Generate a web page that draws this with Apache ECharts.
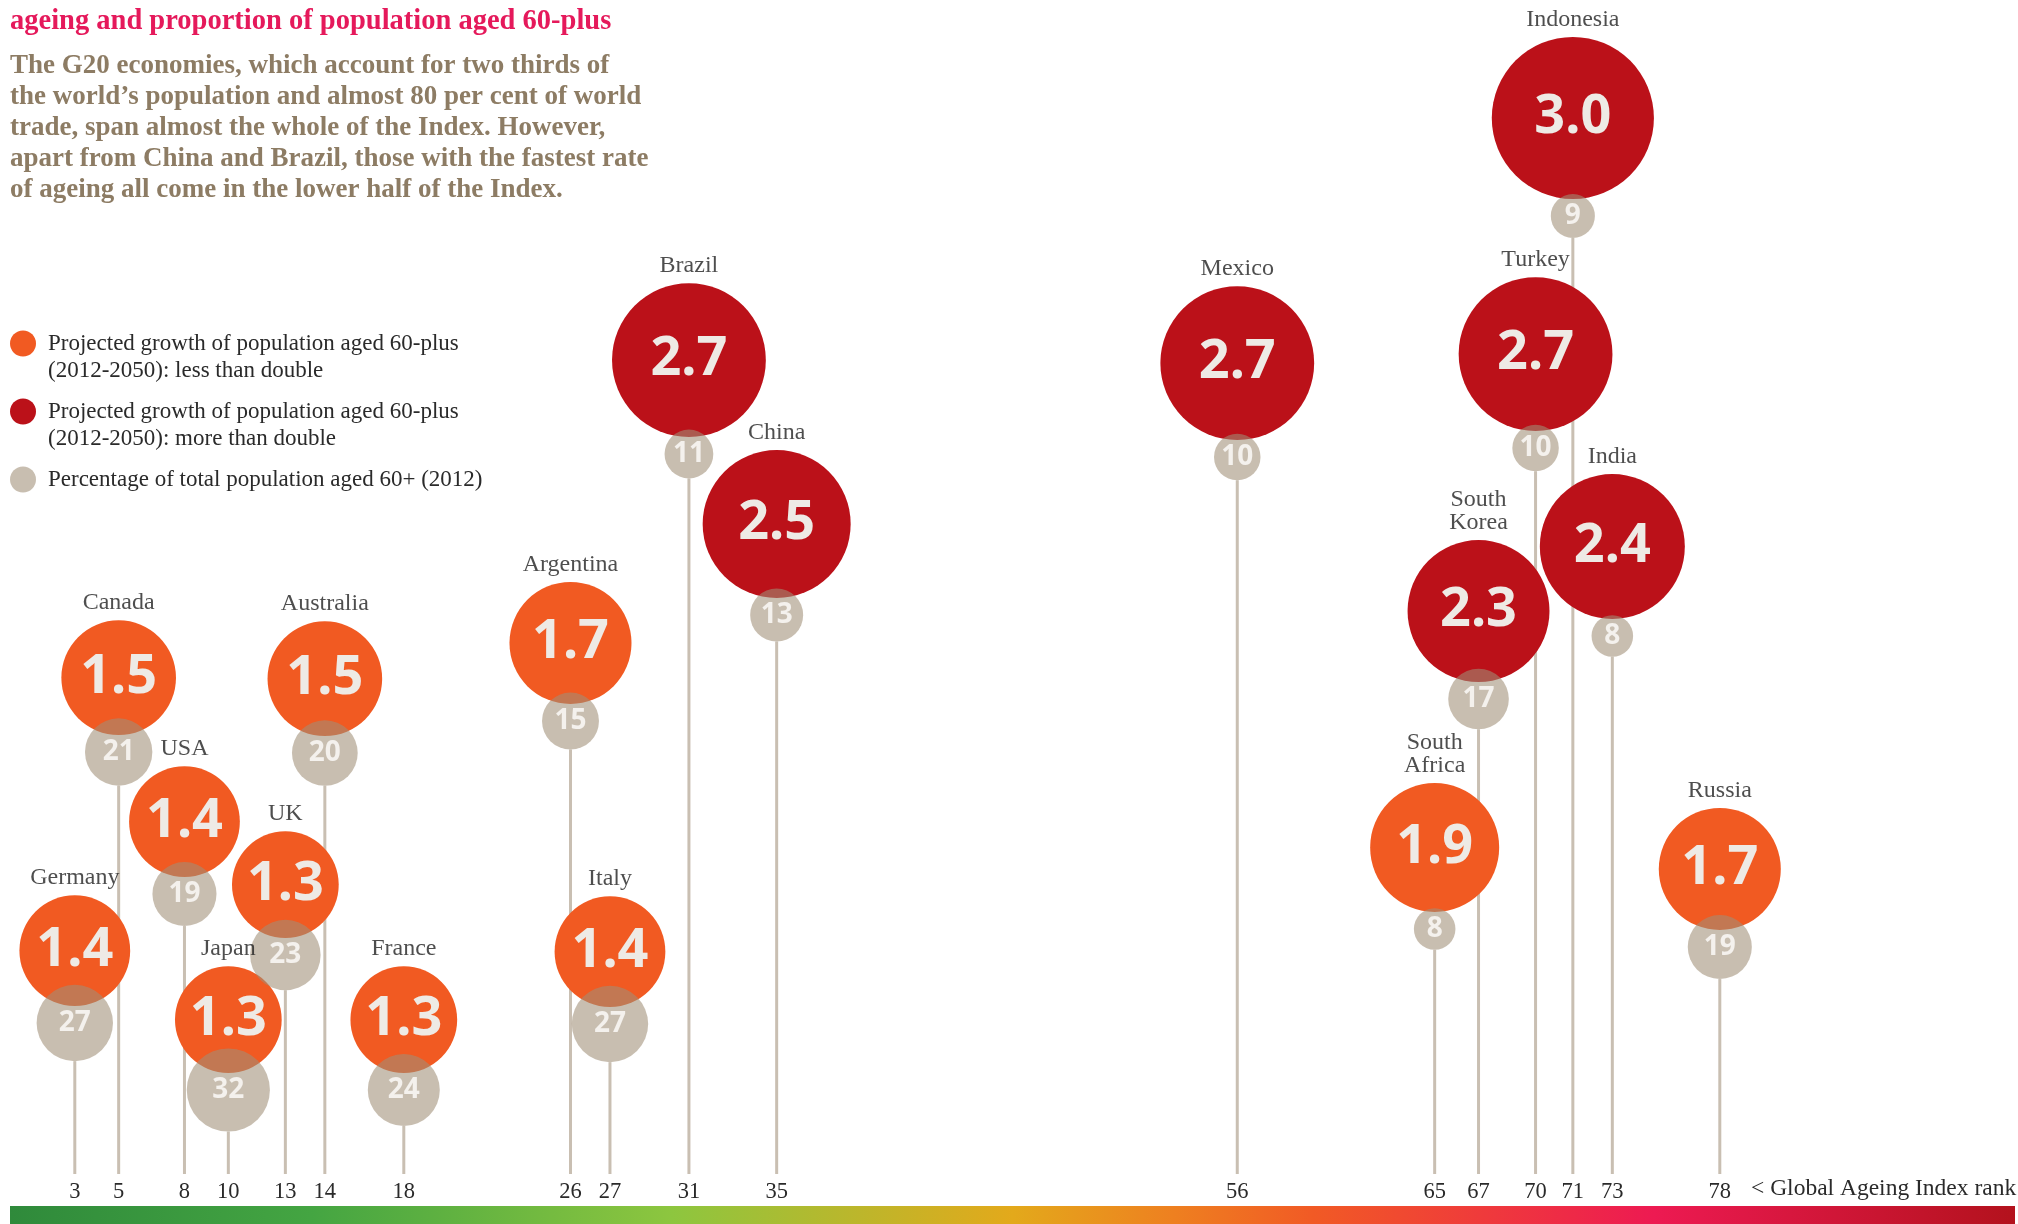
<!DOCTYPE html>
<html>
<head>
<meta charset="utf-8">
<script src="https://cdn.jsdelivr.net/npm/echarts@6/dist/echarts.min.js"></script>
<style>
html, body { margin: 0; padding: 0; background: #fff; }
#chart { width: 2018px; height: 1224px; }
</style>
</head>
<body>
<div id="chart"></div>
<script>
// G20 countries, Global Ageing Index rank, projected growth of 60+ population (2012-2050)
var countries = ['Germany', 'Canada', 'USA', 'Japan', 'UK', 'Australia', 'France', 'Argentina', 'Italy',
    'Brazil', 'China', 'Mexico', 'South Africa', 'South Korea', 'Turkey', 'Indonesia', 'India', 'Russia'];
var rank = [3, 5, 8, 10, 13, 14, 18, 26, 27, 31, 35, 56, 65, 67, 70, 71, 73, 78];
var growth = [1.4, 1.5, 1.4, 1.3, 1.3, 1.5, 1.3, 1.7, 1.4, 2.7, 2.5, 2.7, 1.9, 2.3, 2.7, 3.0, 2.4, 1.7];
// percentage of total population aged 60+ (2012)
var share60 = [27, 21, 19, 32, 23, 20, 24, 15, 27, 11, 13, 10, 8, 17, 10, 9, 8, 19];
// height of each stem (arbitrary units)
var stemHeight = [15.1, 42.2, 28.0, 8.4, 21.9, 42.1, 8.4, 45.3, 15.0, 72.0, 55.9, 71.7, 24.5, 47.5, 72.6, 95.8, 53.8, 22.7];

var LESS = 'Projected growth of population aged 60-plus\n(2012-2050): less than double';
var MORE = 'Projected growth of population aged 60-plus\n(2012-2050): more than double';
var SHARE = 'Percentage of total population aged 60+ (2012)';

var ORANGE = '#f15a22', RED = '#bb1119', GREY = 'rgba(160,143,119,0.58)', STEM = '#c9bfb2', PALE = '#eeeae5';
var SERIF = '"Liberation Serif", "DejaVu Serif", serif';
var SANS = '"Noto Sans", "Open Sans", sans-serif';

// neighbouring ranks get pushed apart a little so stems and labels don't collide
function spread(ranks, minGap) {
    var pos = ranks.slice();
    for (var i = 1; i < pos.length; i++) {
        var gap = pos[i] - pos[i - 1];
        if (gap < minGap) {
            pos[i - 1] -= (minGap - gap) / 2;
            pos[i] += (minGap - gap) / 2;
        }
    }
    return pos;
}
var xPos = spread(rank, 1.8);

function bigSize(g) { return 93.6 * Math.sqrt(g); }
function smallSize(p) { return 14.7 * Math.sqrt(p); }
function bigOffset(g) { return [0, -(bigSize(g) / 2 + 17)]; }

var lessData = [], moreData = [], shareData = [], stemData = [], nameData = [];
for (var i = 0; i < countries.length; i++) {
    var item = {
        name: countries[i],
        value: [xPos[i], stemHeight[i], growth[i]],
        symbolSize: bigSize(growth[i]),
        symbolOffset: bigOffset(growth[i])
    };
    if (growth[i] < 2) lessData.push(item); else moreData.push(item);
    nameData.push({
        name: countries[i],
        value: [xPos[i], stemHeight[i]],
        symbolSize: bigSize(growth[i]),
        symbolOffset: bigOffset(growth[i])
    });
    shareData.push({
        name: countries[i],
        value: [xPos[i], stemHeight[i], share60[i]],
        symbolSize: smallSize(share60[i])
    });
    stemData.push([xPos[i], stemHeight[i], smallSize(share60[i]) / 2]);
}

var bigLabel = {
    show: true, position: 'inside',
    fontFamily: SANS, fontSize: 54, fontWeight: 'bold', color: PALE,
    formatter: function (p) { return p.value[2].toFixed(1); }
};

var chart = echarts.init(document.getElementById('chart'));
var option = {
    animation: false,
    title: {
        left: 10, top: 3, padding: 0, itemGap: 10,
        text: 'ageing and proportion of population aged 60-plus',
        subtext: 'The G20 economies, which account for two thirds of\n' +
            'the world\u2019s population and almost 80 per cent of world\n' +
            'trade, span almost the whole of the Index. However,\n' +
            'apart from China and Brazil, those with the fastest rate\n' +
            'of ageing all come in the lower half of the Index.',
        textStyle: { fontFamily: SERIF, fontSize: 28.5, fontWeight: 'bold', color: '#e5195b', lineHeight: 38 },
        subtextStyle: { fontFamily: SERIF, fontSize: 27, fontWeight: 'bold', color: '#8d7c64', lineHeight: 31 }
    },
    legend: {
        orient: 'vertical', left: 10, top: 303, padding: 0,
        itemWidth: 26, itemHeight: 26, itemGap: -13,
        icon: 'circle', selectedMode: false,
        textStyle: { fontFamily: SERIF, fontSize: 23, color: '#2a2a2a', lineHeight: 27, padding: [0, 0, 0, 7] },
        // a blank first line keeps the dot level with the first text line
        formatter: function (name) {
            return ' \n' + name + (name.indexOf('\n') < 0 ? '\n ' : '');
        },
        data: [LESS, MORE, SHARE]
    },
    grid: { left: 9, right: 35, top: 174, bottom: 50, outerBoundsMode: 'none' },
    xAxis: {
        type: 'value', min: 0, max: 90,
        axisLine: { show: false }, axisTick: { show: false }, splitLine: { show: false },
        axisLabel: {
            customValues: xPos, margin: 7, fontFamily: SERIF, fontSize: 22.5, color: '#2a2a2a',
            formatter: function (v) {
                for (var k = 0; k < xPos.length; k++) {
                    if (Math.abs(xPos[k] - v) < 1e-6) return rank[k];
                }
                return '';
            }
        }
    },
    yAxis: { type: 'value', min: 0, max: 100, show: false },
    graphic: [{
        type: 'rect', left: 10, top: 1206, silent: true,
        shape: { width: 2005, height: 18 },
        style: {
            fill: new echarts.graphic.LinearGradient(0, 0, 1, 0, [
                { offset: 0, color: '#2f8a3b' },
                { offset: 0.15, color: '#44a542' },
                { offset: 0.33, color: '#8dc63f' },
                { offset: 0.5, color: '#e3a91b' },
                { offset: 0.58, color: '#ee8020' },
                { offset: 0.65, color: '#f15a25' },
                { offset: 0.82, color: '#ed1a52' },
                { offset: 1, color: '#b3121d' }
            ])
        }
    }, {
        type: 'text', left: 1751, top: 1177, silent: true,
        style: { text: '< Global Ageing Index rank', fontFamily: SERIF, fontSize: 23.5, fill: '#2a2a2a' }
    }],
    series: [{
        type: 'custom', name: 'stems', z: 1, silent: true,
        encode: { x: 0, y: 1 },
        data: stemData,
        renderItem: function (params, api) {
            var bottom = api.coord([api.value(0), 0]);
            var top = api.coord([api.value(0), api.value(1)]);
            return {
                type: 'line',
                shape: { x1: bottom[0], y1: bottom[1], x2: top[0], y2: top[1] + api.value(2) },
                style: { stroke: STEM, lineWidth: 3 }
            };
        }
    }, {
        type: 'scatter', name: LESS, z: 2,
        itemStyle: { color: ORANGE, opacity: 1 },
        label: bigLabel,
        emphasis: { disabled: true },
        data: lessData
    }, {
        type: 'scatter', name: MORE, z: 2,
        itemStyle: { color: RED, opacity: 1 },
        label: bigLabel,
        emphasis: { disabled: true },
        data: moreData
    }, {
        type: 'scatter', name: SHARE, z: 3,
        itemStyle: { color: GREY, opacity: 1 },
        label: {
            show: true, position: 'inside',
            fontFamily: SANS, fontSize: 28, fontWeight: 'bold', color: '#f4f1ed',
            formatter: function (p) { return p.value[2]; }
        },
        emphasis: { disabled: true },
        data: shareData
    }, {
        type: 'scatter', name: 'names', z: 4, silent: true,
        itemStyle: { color: 'rgba(0,0,0,0)' },
        label: {
            show: true, position: 'top', distance: 6,
            fontFamily: SERIF, fontSize: 24, lineHeight: 23, color: '#222',
            formatter: function (p) { return p.name.replace(' ', '\n'); }
        },
        emphasis: { disabled: true },
        data: nameData
    }]
};
chart.setOption(option);
</script>
</body>
</html>
